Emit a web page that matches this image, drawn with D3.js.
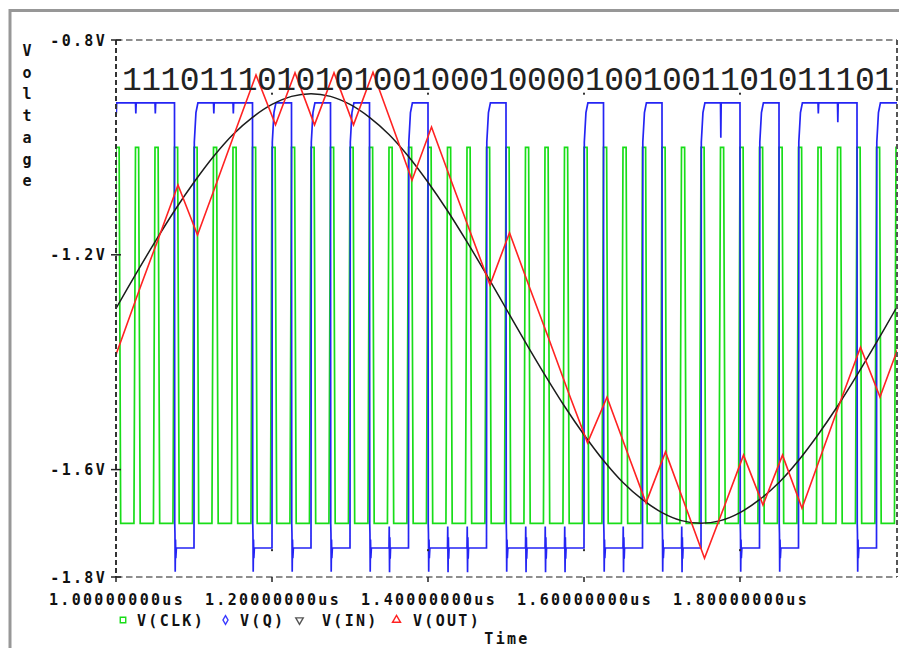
<!DOCTYPE html>
<html>
<head>
<meta charset="utf-8">
<script src="https://cdn.jsdelivr.net/npm/d3@7"></script>
<style>
  html, body { margin: 0; padding: 0; background: #fff; }
  svg { display: block; }
  .lbl { font-family: "DejaVu Sans Mono", monospace; font-weight: bold; font-size: 15px; fill: #111; letter-spacing: 2.3px; }
  .bits { font-family: "Liberation Mono", "DejaVu Sans Mono", monospace; font-size: 33px; fill: #222; }
</style>
</head>
<body>
<svg id="chart" width="899" height="648"></svg>
<script>
// ---- axis ticks and labels ----
const timeTicks = [1.0, 1.2, 1.4, 1.6, 1.8];
const timeLabels = ["1.00000000us", "1.20000000us", "1.40000000us", "1.60000000us", "1.80000000us"];
const voltTicks = [-0.8, -1.2, -1.6, -1.8];
const voltLabels = ["-0.8V", "-1.2V", "-1.6V", "-1.8V"];
const gridDotVolts = [-0.9, -1.75];

// ---- legend ----
const seriesNames = ["V(CLK)", "V(Q)", "V(IN)", "V(OUT)"];

// ---- bit stream sampled at each clock (drives V(Q)) ----
const bitString = "1110111010101001000100001001001101011101";

// ---- V(CLK): rising edge times (us) and logic levels (V) ----
const clkEdges = [0.998, 1.023, 1.048, 1.073, 1.098, 1.123, 1.148, 1.173, 1.198, 1.223,
                  1.248, 1.273, 1.298, 1.323, 1.348, 1.373, 1.398, 1.423, 1.448, 1.473,
                  1.498, 1.523, 1.548, 1.573, 1.598, 1.623, 1.648, 1.673, 1.698, 1.723,
                  1.748, 1.773, 1.798, 1.823, 1.848, 1.873, 1.898, 1.923, 1.948, 1.973, 1.998];
const clkLevels = [-1.70, -1.00];

// ---- V(Q): logic levels (V) ----
const qLevels = [-1.746, -0.917];

// ---- V(IN): sampled input (us, V) ----
const inTime = [1.000, 1.025, 1.050, 1.075, 1.100, 1.125, 1.150, 1.175, 1.200, 1.225,
                1.250, 1.275, 1.300, 1.325, 1.350, 1.375, 1.400, 1.425, 1.450, 1.475,
                1.500, 1.525, 1.550, 1.575, 1.600, 1.625, 1.650, 1.675, 1.700, 1.725,
                1.750, 1.775, 1.800, 1.825, 1.850, 1.875, 1.900, 1.925, 1.950, 1.975, 2.000];
const inVolt = [-1.300, -1.237, -1.176, -1.118, -1.065, -1.017, -0.976, -0.944, -0.920, -0.905,
                -0.900, -0.905, -0.920, -0.944, -0.976, -1.017, -1.065, -1.118, -1.176, -1.237,
                -1.300, -1.363, -1.424, -1.482, -1.535, -1.583, -1.624, -1.656, -1.680, -1.695,
                -1.700, -1.695, -1.680, -1.656, -1.624, -1.583, -1.535, -1.482, -1.424, -1.363, -1.300];

// ---- V(OUT): integrator corner points (us, V) ----
const outTime = [0.9795, 1.0045, 1.0295, 1.0545, 1.0795, 1.1045, 1.1295, 1.1545, 1.1795, 1.2045,
                 1.2295, 1.2545, 1.2795, 1.3045, 1.3295, 1.3545, 1.3795, 1.4045, 1.4295, 1.4545,
                 1.4795, 1.5045, 1.5295, 1.5545, 1.5795, 1.6045, 1.6295, 1.6545, 1.6795, 1.7045,
                 1.7295, 1.7545, 1.7795, 1.8045, 1.8295, 1.8545, 1.8795, 1.9045, 1.9295, 1.9545,
                 1.9795, 2.0045];
const outVolt = [-1.468, -1.368, -1.267, -1.169, -1.070, -1.163, -1.064, -0.964, -0.865, -0.958,
                 -0.861, -0.958, -0.861, -0.958, -0.860, -0.960, -1.061, -0.962, -1.061, -1.159,
                 -1.256, -1.159, -1.258, -1.355, -1.454, -1.550, -1.465, -1.564, -1.662, -1.567,
                 -1.666, -1.765, -1.670, -1.573, -1.666, -1.573, -1.672, -1.571, -1.470, -1.372,
                 -1.465, -1.366];

const colors = { clk: "#18dd18", q: "#2424f4", inp: "#1c1c1c", out: "#ff2222" };

const svg = d3.select("#chart");
const W = 899, H = 648;
const plot = { left: 116, right: 896, top: 40, bottom: 577 };

const x = d3.scaleLinear().domain([1.0, 2.0]).range([plot.left, plot.right]);
const y = d3.scaleLinear().domain([-0.8, -1.8]).range([plot.top, plot.bottom]);

// window frame
svg.append("path")
  .attr("d", `M10,${H} V10.5 H${W}`)
  .attr("fill", "none").attr("stroke", "#979797").attr("stroke-width", 3);

// clip to the plot box
svg.append("defs").append("clipPath").attr("id", "plotClip")
  .append("rect").attr("x", plot.left).attr("y", plot.top - 2)
  .attr("width", plot.right - plot.left + 1).attr("height", plot.bottom - plot.top + 4);

const line = d3.line().x(d => x(d[0])).y(d => y(d[1]));
const g = svg.append("g").attr("clip-path", "url(#plotClip)");

// ---- clock trace ----
const [clkLo, clkHi] = clkLevels;
const clkPts = [[0.97, clkLo]];
clkEdges.forEach(te => {
  clkPts.push([te, clkLo], [te + 0.002, clkHi], [te + 0.006, clkHi], [te + 0.008, clkLo]);
});
clkPts.push([2.02, clkLo]);
g.append("path").attr("d", line(clkPts))
  .attr("fill", "none").attr("stroke", colors.clk).attr("stroke-width", 1.7);

// ---- Q trace built from the sampled bits ----
const bits = bitString.split("").map(Number);
const [qLo, qHi] = qLevels;
const qPts = [[0.97, qHi]];
let prev = 1;
bits.forEach((b, k) => {
  const te = clkEdges[k] + 0.002;
  if (b === prev) {
    if (b) {
      const dip = (k === 31) ? 0.065 : (k === 37 ? 0.036 : 0.02);
      qPts.push([te, qHi], [te + 0.0004, qHi - dip], [te + 0.0009, qHi]);
    } else {
      qPts.push([te, qLo], [te + 0.0003, qLo + 0.04], [te + 0.0007, qLo - 0.045],
                [te + 0.0011, qLo + 0.02], [te + 0.0015, qLo - 0.02], [te + 0.002, qLo]);
    }
  } else if (b) {
    qPts.push([te, qLo], [te + 0.0004, -0.99], [te + 0.0025, -0.935], [te + 0.005, qHi]);
  } else {
    qPts.push([te, qHi], [te + 0.0003, -1.70], [te + 0.0006, -1.72], [te + 0.0009, -1.79],
              [te + 0.0013, -1.73], [te + 0.0017, -1.765], [te + 0.0024, qLo]);
  }
  prev = b;
});
qPts.push([2.02, prev ? qHi : qLo]);
g.append("path").attr("d", line(qPts))
  .attr("fill", "none").attr("stroke", colors.q).attr("stroke-width", 1.7);

// ---- IN trace ----
g.append("path").attr("d", d3.line().x(d => x(d[0])).y(d => y(d[1])).curve(d3.curveCatmullRom)(inTime.map((t, i) => [t, inVolt[i]])))
  .attr("fill", "none").attr("stroke", colors.inp).attr("stroke-width", 1.5);

// ---- OUT trace ----
g.append("path").attr("d", line(outTime.map((t, i) => [t, outVolt[i]])))
  .attr("fill", "none").attr("stroke", colors.out).attr("stroke-width", 1.6);

// ---- plot border (dashed) ----
const border = svg.append("g").attr("fill", "none");
border.append("line").attr("x1", plot.left).attr("x2", plot.right + 1).attr("y1", plot.top).attr("y2", plot.top)
  .attr("stroke", "#8e8e8e").attr("stroke-width", 2).attr("stroke-dasharray", "6.5,3.5");
border.append("line").attr("x1", plot.left).attr("x2", plot.right + 1).attr("y1", plot.bottom).attr("y2", plot.bottom)
  .attr("stroke", "#8e8e8e").attr("stroke-width", 2).attr("stroke-dasharray", "6.5,3.5");
border.append("line").attr("x1", plot.left).attr("x2", plot.left).attr("y1", plot.top).attr("y2", plot.bottom)
  .attr("stroke", "#333").attr("stroke-width", 2).attr("stroke-dasharray", "5,3");
border.append("line").attr("x1", plot.right + 1).attr("x2", plot.right + 1).attr("y1", plot.top).attr("y2", plot.bottom)
  .attr("stroke", "#555").attr("stroke-width", 2).attr("stroke-dasharray", "5,3");

// y-axis ticks and labels
voltTicks.forEach((v, i) => {
  svg.append("line").attr("x1", plot.left - 5).attr("x2", plot.left + 5)
    .attr("y1", y(v)).attr("y2", y(v)).attr("stroke", "#222").attr("stroke-width", 1.5);
  svg.append("text").attr("class", "lbl").attr("x", 107).attr("y", y(v) + 5.5)
    .attr("text-anchor", "end").text(voltLabels[i]);
});

// x-axis ticks and labels
timeTicks.forEach((t, i) => {
  svg.append("line").attr("x1", x(t)).attr("x2", x(t))
    .attr("y1", plot.bottom).attr("y2", plot.bottom + 5).attr("stroke", "#222").attr("stroke-width", 1.5);
  svg.append("text").attr("class", "lbl").attr("x", x(t) + 1).attr("y", 605)
    .attr("text-anchor", "middle").text(timeLabels[i]);
});

// small grid dots
timeTicks.slice(1).forEach(t => {
  gridDotVolts.forEach(v => {
    svg.append("rect").attr("x", x(t) - 1).attr("y", y(v) - 1).attr("width", 2).attr("height", 2).attr("fill", "#333");
  });
});

// vertical axis title, one upright letter per row
"Voltage".split("").forEach((ch, i) => {
  svg.append("text").attr("class", "lbl").style("letter-spacing", "0px")
    .attr("x", 27).attr("y", 56 + i * 21.7).attr("text-anchor", "middle").text(ch);
});

// horizontal axis title
svg.append("text").attr("class", "lbl").attr("x", (plot.left + plot.right) / 2 + 1).attr("y", 644)
  .attr("text-anchor", "middle").text("Time");

// bit stream annotation
svg.append("text").attr("class", "bits").attr("x", 122).attr("y", 90)
  .attr("textLength", 772).attr("lengthAdjust", "spacing").text(bitString);

// legend
const legendX = [123, 225.5, 299.5, 396.5];
const legendTextX = [137, 240, 322, 413];
const legendColors = [colors.clk, "#3a3aff", "#555", colors.out];
const ly = 620;
const sym = [
  d3.symbol().type(d3.symbolSquare).size(30),
  d3.symbol().type(d3.symbolDiamond).size(22),
  d3.symbol().type(d3.symbolTriangle).size(24),
  d3.symbol().type(d3.symbolTriangle).size(28)
];
seriesNames.forEach((name, i) => {
  svg.append("path").attr("d", sym[i]())
    .attr("transform", `translate(${legendX[i]},${ly})` + (i === 2 ? " rotate(180)" : ""))
    .attr("fill", "none").attr("stroke", legendColors[i]).attr("stroke-width", 1.4);
  svg.append("text").attr("class", "lbl").attr("x", legendTextX[i]).attr("y", ly + 5.5).text(name);
});
</script>
</body>
</html>
